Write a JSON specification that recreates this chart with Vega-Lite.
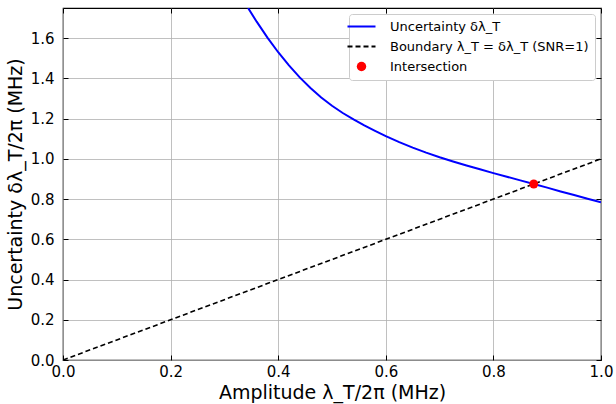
{
  "$schema": "https://vega.github.io/schema/vega-lite/v6.json",
  "width": 538,
  "height": 352,
  "autosize": "none",
  "padding": {"left": 63, "top": 8, "right": 15, "bottom": 44},
  "background": "white",
  "data": {
    "values": [
      {"series": "Uncertainty δλ_T", "x": 0.344, "y": 1.75},
      {"series": "Uncertainty δλ_T", "x": 0.36, "y": 1.682},
      {"series": "Uncertainty δλ_T", "x": 0.38, "y": 1.603},
      {"series": "Uncertainty δλ_T", "x": 0.40, "y": 1.530},
      {"series": "Uncertainty δλ_T", "x": 0.42, "y": 1.465},
      {"series": "Uncertainty δλ_T", "x": 0.44, "y": 1.405},
      {"series": "Uncertainty δλ_T", "x": 0.46, "y": 1.352},
      {"series": "Uncertainty δλ_T", "x": 0.48, "y": 1.305},
      {"series": "Uncertainty δλ_T", "x": 0.50, "y": 1.264},
      {"series": "Uncertainty δλ_T", "x": 0.52, "y": 1.228},
      {"series": "Uncertainty δλ_T", "x": 0.54, "y": 1.196},
      {"series": "Uncertainty δλ_T", "x": 0.56, "y": 1.166},
      {"series": "Uncertainty δλ_T", "x": 0.58, "y": 1.139},
      {"series": "Uncertainty δλ_T", "x": 0.60, "y": 1.113},
      {"series": "Uncertainty δλ_T", "x": 0.625, "y": 1.083},
      {"series": "Uncertainty δλ_T", "x": 0.65, "y": 1.056},
      {"series": "Uncertainty δλ_T", "x": 0.675, "y": 1.031},
      {"series": "Uncertainty δλ_T", "x": 0.70, "y": 1.008},
      {"series": "Uncertainty δλ_T", "x": 0.725, "y": 0.987},
      {"series": "Uncertainty δλ_T", "x": 0.75, "y": 0.967},
      {"series": "Uncertainty δλ_T", "x": 0.775, "y": 0.948},
      {"series": "Uncertainty δλ_T", "x": 0.80, "y": 0.929},
      {"series": "Uncertainty δλ_T", "x": 0.825, "y": 0.911},
      {"series": "Uncertainty δλ_T", "x": 0.85, "y": 0.893},
      {"series": "Uncertainty δλ_T", "x": 0.875, "y": 0.875},
      {"series": "Uncertainty δλ_T", "x": 0.90, "y": 0.857},
      {"series": "Uncertainty δλ_T", "x": 0.925, "y": 0.838},
      {"series": "Uncertainty δλ_T", "x": 0.95, "y": 0.820},
      {"series": "Uncertainty δλ_T", "x": 0.975, "y": 0.802},
      {"series": "Uncertainty δλ_T", "x": 1.00, "y": 0.784},
      {"series": "Boundary λ_T = δλ_T (SNR=1)", "x": 0.0, "y": 0.0},
      {"series": "Boundary λ_T = δλ_T (SNR=1)", "x": 1.0, "y": 1.0},
      {"series": "Intersection", "x": 0.875, "y": 0.875}
    ]
  },
  "encoding": {
    "x": {"field": "x", "type": "quantitative", "scale": {"domain": [0, 1], "nice": false, "zero": false}},
    "y": {"field": "y", "type": "quantitative", "scale": {"domain": [0, 1.75], "nice": false, "zero": false}},
    "color": {"field": "series", "type": "nominal",
      "scale": {"domain": ["Uncertainty δλ_T", "Boundary λ_T = δλ_T (SNR=1)", "Intersection"], "range": ["#0000ff", "#000000", "#ff0000"]},
      "legend": {
        "title": null, "orient": "top-right", "offset": 6,
        "fillColor": "white", "strokeColor": "#cccccc", "cornerRadius": 3, "padding": 6,
        "labelFontSize": 13, "labelFont": "DejaVu Sans", "labelColor": "black", "labelLimit": 400,
        "symbolType": "stroke", "symbolSize": 784, "symbolStrokeWidth": 2, "rowPadding": 6, "labelOffset": 22,
        "encode": {
          "symbols": {
            "update": {
              "shape": {"signal": "datum.value === 'Intersection' ? 'circle' : 'stroke'"},
              "size": {"signal": "datum.value === 'Intersection' ? 90 : 784"},
              "fill": {"signal": "datum.value === 'Intersection' ? '#ff0000' : 'transparent'"},
              "strokeDash": {"signal": "datum.value === 'Intersection' || datum.value === 'Uncertainty δλ_T' ? [1, 0] : [5, 3]"},
              "strokeWidth": {"signal": "datum.value === 'Intersection' ? 0 : 2"},
              "opacity": {"value": 1}
            }
          }
        }
      }}
  },
  "layer": [
    {
      "transform": [{"filter": "datum.series === 'Uncertainty δλ_T'"}],
      "mark": {"type": "line", "strokeWidth": 2, "clip": true},
      "encoding": {
        "x": {"field": "x", "type": "quantitative",
              "axis": {"orient": "bottom", "values": [0, 0.2, 0.4, 0.6, 0.8, 1.0], "format": ".1f", "title": "Amplitude λ_T/2π (MHz)", "offset": -5, "labelPadding": 4, "titlePadding": 4, "labelFlush": false, "labelOverlap": false}},
        "y": {"field": "y", "type": "quantitative",
              "axis": {"orient": "left", "values": [0, 0.2, 0.4, 0.6, 0.8, 1.0, 1.2, 1.4, 1.6], "format": ".1f", "title": "Uncertainty δλ_T/2π (MHz)", "offset": -5, "labelPadding": 9, "titlePadding": 5, "labelFlush": false, "labelOverlap": false}}
      }
    },
    {
      "transform": [{"filter": "datum.series === 'Boundary λ_T = δλ_T (SNR=1)'"}],
      "mark": {"type": "line", "strokeWidth": 1.6, "strokeDash": [5, 3], "clip": true},
      "encoding": {
        "x": {"field": "x", "type": "quantitative", "axis": null},
        "y": {"field": "y", "type": "quantitative", "axis": null}
      }
    },
    {
      "transform": [{"filter": "datum.series === 'Intersection'"}],
      "mark": {"type": "point", "filled": true, "shape": "circle", "size": 80, "opacity": 1},
      "encoding": {
        "x": {"field": "x", "type": "quantitative",
              "axis": {"orient": "top", "values": [0, 0.2, 0.4, 0.6, 0.8, 1.0], "labels": false, "title": null, "grid": false, "offset": -5}},
        "y": {"field": "y", "type": "quantitative",
              "axis": {"orient": "right", "values": [0, 0.2, 0.4, 0.6, 0.8, 1.0, 1.2, 1.4, 1.6], "labels": false, "title": null, "grid": false, "offset": -5}}
      }
    }
  ],
  "resolve": {"axis": {"x": "independent", "y": "independent"}},
  "config": {
    "font": "DejaVu Sans",
    "view": {"stroke": "black", "strokeWidth": 1.2},
    "axis": {
      "labelFontSize": 15, "titleFontSize": 19, "labelColor": "black", "titleColor": "black",
      "titleFontWeight": "normal", "labelFont": "DejaVu Sans", "titleFont": "DejaVu Sans",
      "domain": false, "tickColor": "black", "tickSize": 5, "tickWidth": 1,
      "grid": true, "gridColor": "#b0b0b0", "gridWidth": 0.8, "gridOpacity": 1
    }
  }
}
